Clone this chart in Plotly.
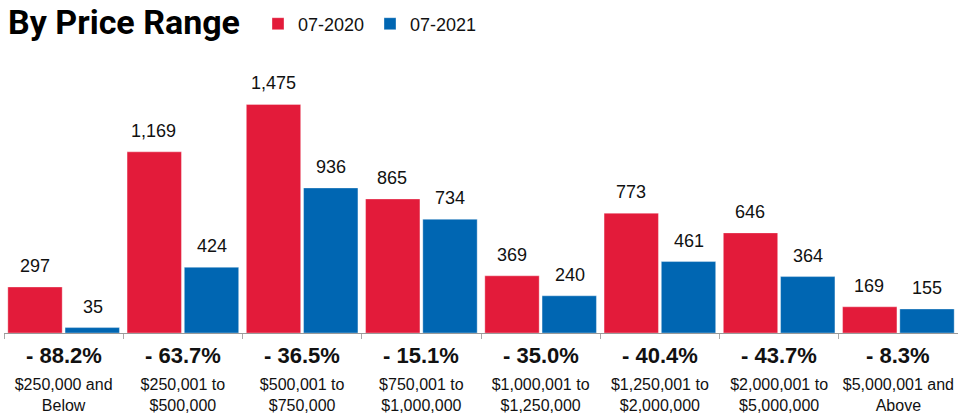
import plotly.graph_objects as go

categories = ["$250,000 and<br>Below", "$250,001 to<br>$500,000", "$500,001 to<br>$750,000",
              "$750,001 to<br>$1,000,000", "$1,000,001 to<br>$1,250,000", "$1,250,001 to<br>$2,000,000",
              "$2,000,001 to<br>$5,000,000", "$5,000,001 and<br>Above"]
values_2020 = [297, 1169, 1475, 865, 369, 773, 646, 169]
values_2021 = [35, 424, 936, 734, 240, 461, 364, 155]
pct_change = ["- 88.2%", "- 63.7%", "- 36.5%", "- 15.1%", "- 35.0%", "- 40.4%", "- 43.7%", "- 8.3%"]
series_names = ["07-2020", "07-2021"]

RED = "#E31B3A"
BLUE = "#0066B2"
FONT = "Liberation Sans, Arial, sans-serif"

fig = go.Figure()
fig.add_trace(go.Bar(name=series_names[0], x=categories, y=values_2020,
                     marker=dict(color=RED, line=dict(color="rgba(255,255,255,0.35)", width=1))))
fig.add_trace(go.Bar(name=series_names[1], x=categories, y=values_2021,
                     marker=dict(color=BLUE, line=dict(color="rgba(255,255,255,0.35)", width=1))))

annotations = []
for cat, v1, v2, p in zip(categories, values_2020, values_2021, pct_change):
    for v, dx in ((v1, -29), (v2, 29)):
        annotations.append(dict(x=cat, y=v, xref="x", yref="y", text=f"{v:,}", showarrow=False,
                                xshift=dx, yshift=9, yanchor="bottom",
                                font=dict(size=18, color="#111", family=FONT)))
    annotations.append(dict(x=cat, y=0, xref="x", yref="paper", text=f"<b>{p}</b>", showarrow=False,
                            yshift=-22, yanchor="middle",
                            font=dict(size=22, color="#111", family=FONT)))

fig.update_layout(
    width=958, height=416,
    margin=dict(l=4, r=0, t=70, b=83, autoexpand=False),
    paper_bgcolor="white", plot_bgcolor="white",
    barmode="group", bargap=0.04, bargroupgap=0.05,
    title=dict(text="<b>By Price Range</b>", x=8/958, xanchor="left", xref="container",
               y=1-22/416, yanchor="middle", yref="container",
               font=dict(size=34, color="#000", family="Roboto, sans-serif")),
    legend=dict(orientation="h", x=(258-4)/954, xanchor="left", y=1-24/416, yanchor="middle",
                yref="container", font=dict(size=18, color="#111", family=FONT),
                entrywidth=67, entrywidthmode="pixels", bgcolor="rgba(0,0,0,0)"),
    xaxis=dict(showline=True, linecolor="#999", linewidth=1, ticks="outside", ticklen=5,
               tickcolor="#aaa", tickson="boundaries", ticklabelstandoff=37, tickangle=0,
               automargin=False,
               tickfont=dict(size=16, color="#111", family=FONT), showgrid=False),
    yaxis=dict(range=[0, 1697], visible=False, showgrid=False, automargin=False),
    annotations=annotations,
    font=dict(family=FONT),
)

fig.write_html("out.html", config={"displayModeBar": False},
               post_script="document.body.style.margin='0';")
